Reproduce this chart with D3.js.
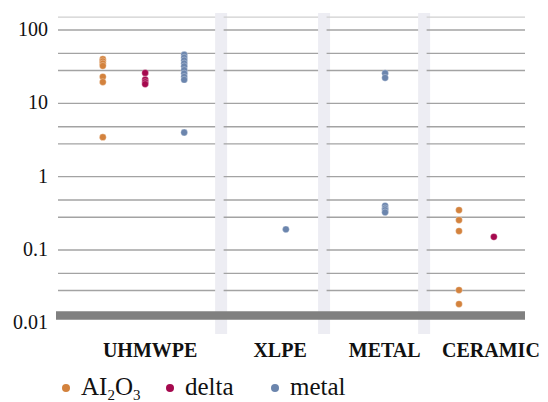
<!DOCTYPE html>
<html>
<head>
<meta charset="utf-8">
<script src="https://cdn.jsdelivr.net/npm/d3@7"></script>
<style>
  body { margin: 0; background: #fff; }
  svg { display: block; }
  svg text { font-family: "Liberation Serif", "Times New Roman", Times, "DejaVu Serif", serif; }
</style>
</head>
<body>
<div id="chart"></div>
<script>
// categories along the bottom, and where they sit on the x slot axis
var categories = ["UHMWPE", "XLPE", "METAL", "CERAMIC"];
var categoryPos = [2.22, 5.35, 7.87, 10.43];
var separators = [3.93, 6.41, 8.82];

// y ticks (log scale)
var yTicks = [100, 10, 1, 0.1, 0.01];
var majorGrid = [100, 10, 1, 0.1];
var minorGrid = [48, 28, 4.8, 2.8, 0.48, 0.28, 0.048, 0.028];
var topLine = 150;
var baseLine = 0.0128;

// series: [slot, value]
var al2o3 = [
  [1.08, 40], [1.08, 37.5], [1.08, 35], [1.08, 32.5], [1.08, 23], [1.08, 19.5], [1.08, 3.45],
  [9.66, 0.35], [9.66, 0.256], [9.66, 0.181], [9.66, 0.0284], [9.66, 0.0183]
];
var delta = [
  [2.1, 26], [2.1, 21], [2.1, 19.5], [2.1, 18.3],
  [10.5, 0.151]
];
var metal = [
  [3.04, 46], [3.04, 42], [3.04, 38.5], [3.04, 35], [3.04, 32], [3.04, 28.5],
  [3.04, 25.5], [3.04, 23], [3.04, 21], [3.04, 4.0],
  [5.49, 0.191],
  [7.88, 25.7], [7.88, 22.3],
  [7.88, 0.40], [7.88, 0.37], [7.88, 0.35], [7.88, 0.326]
];

var seriesNames = ["AI2O3", "delta", "metal"];
var seriesColors = ["#d3823d", "#a5094e", "#6b85ad"];
var seriesData = [al2o3, delta, metal];

var width = 548, height = 402;
var left = 58, right = 525;
var serif = '"Liberation Serif", "Times New Roman", Times, "DejaVu Serif", serif';

var svg = d3.select("#chart")
  .append("svg")
    .attr("width", width)
    .attr("height", height);

var x = d3.scaleLinear()
  .domain([0, 11.25])
  .range([left, right]);

var y = d3.scaleLog()
  .domain([0.01, 100])
  .range([323.3, 30]);

// vertical separator bands
svg.selectAll(".band")
  .data(separators)
  .enter().append("rect")
    .attr("class", "band")
    .attr("x", function(d){ return x(d) - 6; })
    .attr("y", 13)
    .attr("width", 12)
    .attr("height", 321)
    .attr("fill", "#ededf3");

// gridlines are broken where the bands are
var segs = [];
var start = left;
separators.forEach(function(s){
  segs.push([start, x(s) - 6]);
  start = x(s) + 2.5;
});
segs.push([start, right]);

function gridRow(val, color){
  svg.append("g").selectAll("line")
    .data(segs)
    .enter().append("line")
      .attr("x1", function(d){ return d[0]; })
      .attr("x2", function(d){ return d[1]; })
      .attr("y1", y(val))
      .attr("y2", y(val))
      .attr("stroke", color)
      .attr("stroke-width", 1.4);
}

gridRow(topLine, "#cfcfcf");
majorGrid.concat(minorGrid).forEach(function(v){ gridRow(v, "#a3a3a3"); });

// thick base bar
svg.append("line")
  .attr("x1", left - 2)
  .attr("x2", right)
  .attr("y1", y(baseLine))
  .attr("y2", y(baseLine))
  .attr("stroke", "#808080")
  .attr("stroke-width", 8.6);

// y axis labels
var yAxis = d3.axisLeft(y)
  .tickValues(yTicks)
  .tickSize(0)
  .tickPadding(10)
  .tickFormat(function(d){ return String(d); });

var ya = svg.append("g")
  .attr("transform", "translate(" + left + ",-1)")
  .call(yAxis);
ya.attr("font-family", null).attr("font-size", null);
ya.select(".domain").remove();
ya.selectAll("text")
  .style("font-family", serif)
  .style("font-size", "20px")
  .attr("fill", "#111");

// category labels
svg.selectAll(".cat")
  .data(categories)
  .enter().append("text")
    .attr("class", "cat")
    .attr("x", function(d, i){ return x(categoryPos[i]); })
    .attr("y", 357)
    .attr("text-anchor", "middle")
    .style("font-family", serif)
    .style("font-weight", "bold")
    .style("font-size", "20px")
    .attr("fill", "#111")
    .text(function(d){ return d; });

// points
seriesData.forEach(function(pts, i){
  svg.append("g").selectAll("circle")
    .data(pts)
    .enter().append("circle")
      .attr("cx", function(d){ return x(d[0]); })
      .attr("cy", function(d){ return y(d[1]); })
      .attr("r", 3.4)
      .attr("fill", seriesColors[i])
      .attr("stroke", "#fff")
      .attr("stroke-opacity", 0.6)
      .attr("stroke-width", 0.5);
});

// legend
var legendX = [66, 170, 275];
var lg = svg.append("g");
seriesNames.forEach(function(name, i){
  lg.append("circle")
    .attr("cx", legendX[i])
    .attr("cy", 388)
    .attr("r", 4)
    .attr("fill", seriesColors[i]);
  var t = lg.append("text")
    .attr("x", legendX[i] + 15)
    .attr("y", 395)
    .style("font-family", serif)
    .style("font-size", "25px")
    .attr("fill", "#111");
  if (name == "AI2O3") {
    t.append("tspan").text("AI");
    t.append("tspan").style("font-size", "15px").attr("dy", 5).text("2");
    t.append("tspan").attr("dy", -5).text("O");
    t.append("tspan").style("font-size", "15px").attr("dy", 5).text("3");
  } else {
    t.text(name);
  }
});
</script>
</body>
</html>
